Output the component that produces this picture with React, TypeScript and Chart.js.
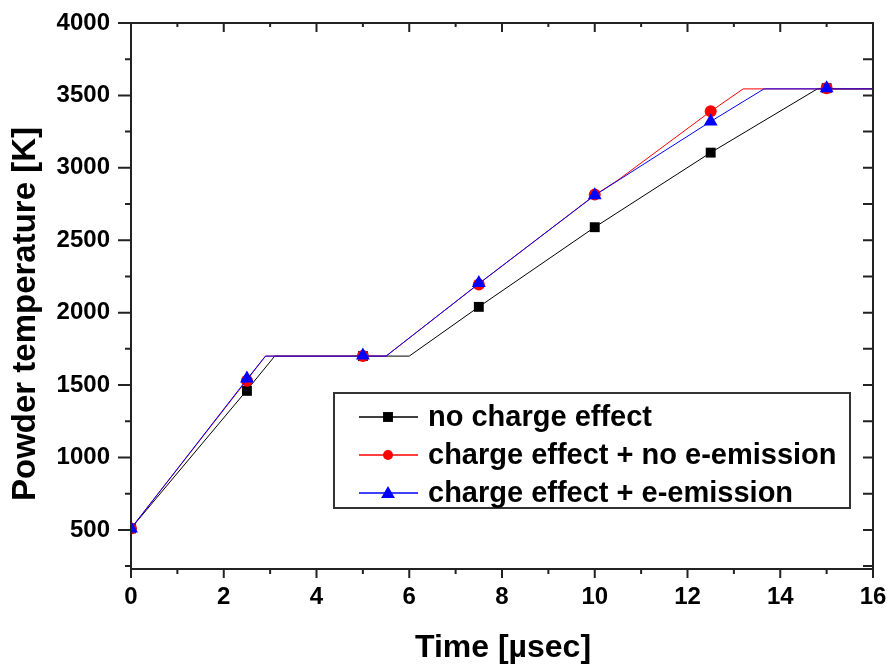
import React, { useEffect, useRef } from "react";
import { Chart, registerables } from "chart.js";

Chart.register(...registerables);

// ---- Axis ticks ----
const xTicks = [0, 2, 4, 6, 8, 10, 12, 14, 16];
const xMinorTicks = [1, 3, 5, 7, 9, 11, 13, 15];
const yTicks = [500, 1000, 1500, 2000, 2500, 3000, 3500, 4000];
const yMinorTicks = [250, 750, 1250, 1750, 2250, 2750, 3250, 3750];

// ---- Series names ----
const seriesNames = [
  "no charge effect",
  "charge effect + no e-emission",
  "charge effect + e-emission",
];

// ---- Marker samples (every 2.5 µs) ----
const markerTimes = [0, 2.5, 5, 7.5, 10, 12.5, 15];
const blackMarkers = [510, 1460, 1700, 2040, 2590, 3105, 3550];
const redMarkers = [510, 1530, 1700, 2195, 2815, 3390, 3550];
const blueMarkers = [510, 1545, 1705, 2205, 2810, 3320, 3550];

// ---- Continuous curves (breakpoints) ----
const blackLineTimes = [0, 2.5, 3.1, 6.0, 7.5, 10, 12.5, 14.8, 16];
const blackLineTemps = [510, 1465, 1700, 1700, 2040, 2590, 3105, 3545, 3545];
const redLineTimes = [0, 2.5, 2.9, 5.5, 7.5, 10, 10.5, 12.5, 13.2, 16];
const redLineTemps = [510, 1535, 1700, 1700, 2200, 2812, 2915, 3390, 3545, 3545];
const blueLineTimes = [0, 2.5, 2.9, 5.5, 7.5, 10, 12.5, 13.65, 16];
const blueLineTemps = [510, 1540, 1700, 1700, 2200, 2810, 3320, 3545, 3545];

const FONT = "'Liberation Sans', Arial, Helvetica, sans-serif";

const toXY = (xs: number[], ys: number[]) => xs.map((x, i) => ({ x, y: ys[i] }));

function drawMarker(ctx: CanvasRenderingContext2D, style: string, x: number, y: number, r: number, color: string) {
  ctx.save();
  ctx.fillStyle = color;
  ctx.beginPath();
  if (style === "rect") {
    const s = r * Math.SQRT1_2;
    ctx.rect(x - s, y - s, 2 * s, 2 * s);
  } else if (style === "circle") {
    ctx.arc(x, y, r, 0, Math.PI * 2);
  } else {
    const h = Math.sin(Math.PI / 3) * r;
    ctx.moveTo(x, y - r);
    ctx.lineTo(x + h, y + r / 2);
    ctx.lineTo(x - h, y + r / 2);
    ctx.closePath();
  }
  ctx.fill();
  ctx.restore();
}

const seriesStyles = [
  { color: "#000000", point: "rect", radius: 7, legendRadius: 7 },
  { color: "#ff0000", point: "circle", radius: 6, legendRadius: 5 },
  { color: "#0000ff", point: "triangle", radius: 8, legendRadius: 8 },
];

const framePlugin = {
  id: "frameTicks",
  afterDatasetsDraw(chart: any) {
    const { ctx, chartArea, scales } = chart;
    const { left, right, top, bottom } = chartArea;
    const xs = scales.x;
    const ys = scales.y;
    ctx.save();
    ctx.strokeStyle = "#222";
    ctx.lineWidth = 2;
    ctx.strokeRect(left, top, right - left, bottom - top);
    ctx.beginPath();
    xTicks.forEach((v) => {
      const px = xs.getPixelForValue(v);
      ctx.moveTo(px, bottom);
      ctx.lineTo(px, bottom + 9);
      ctx.moveTo(px, top);
      ctx.lineTo(px, top + 9);
    });
    xMinorTicks.forEach((v) => {
      const px = xs.getPixelForValue(v);
      ctx.moveTo(px, bottom);
      ctx.lineTo(px, bottom + 5);
      ctx.moveTo(px, top);
      ctx.lineTo(px, top + 4);
    });
    yTicks.forEach((v) => {
      const py = ys.getPixelForValue(v);
      ctx.moveTo(left, py);
      ctx.lineTo(left - 13, py);
      ctx.moveTo(right, py);
      ctx.lineTo(right - 10, py);
    });
    yMinorTicks.forEach((v) => {
      if (v < ys.min) return;
      const py = ys.getPixelForValue(v);
      ctx.moveTo(left, py);
      ctx.lineTo(left - 6, py);
      ctx.moveTo(right, py);
      ctx.lineTo(right - 10, py);
    });
    ctx.stroke();
    ctx.restore();
  },
  afterDraw(chart: any) {
    const { ctx } = chart;
    ctx.save();
    ctx.fillStyle = "#000";
    ctx.font = `bold 32px ${FONT}`;
    ctx.textAlign = "center";
    ctx.textBaseline = "alphabetic";
    ctx.fillText("Time [\u00b5sec]", 503, 657);
    ctx.save();
    ctx.translate(35, 314);
    ctx.rotate(-Math.PI / 2);
    ctx.font = `bold 33px ${FONT}`;
    ctx.fillText("Powder temperature [K]", 0, 0);
    ctx.restore();

    // Legend
    const bx = 334, by = 393, bw = 516, bh = 115;
    ctx.fillStyle = "#fff";
    ctx.fillRect(bx, by, bw, bh);
    ctx.strokeStyle = "#333";
    ctx.lineWidth = 2;
    ctx.strokeRect(bx, by, bw, bh);
    const rows = [417, 455, 493];
    seriesNames.forEach((name, i) => {
      const st = seriesStyles[i];
      const yy = rows[i];
      ctx.strokeStyle = st.color;
      ctx.lineWidth = 1.5;
      ctx.beginPath();
      ctx.moveTo(359, yy);
      ctx.lineTo(418, yy);
      ctx.stroke();
      drawMarker(ctx, st.point, 388, yy + (st.point === "triangle" ? 1 : 0), st.legendRadius, st.color);
      ctx.fillStyle = "#000";
      ctx.font = `bold 29px ${FONT}`;
      ctx.textAlign = "left";
      ctx.textBaseline = "middle";
      ctx.fillText(name, 428, yy + 1);
    });
    ctx.restore();
  },
};

export default function App() {
  const canvasRef = useRef<HTMLCanvasElement | null>(null);

  useEffect(() => {
    if (!canvasRef.current) return;
    const lineSets = [
      toXY(blackLineTimes, blackLineTemps),
      toXY(redLineTimes, redLineTemps),
      toXY(blueLineTimes, blueLineTemps),
    ];
    const markerSets = [
      toXY(markerTimes, blackMarkers),
      toXY(markerTimes, redMarkers),
      toXY(markerTimes, blueMarkers),
    ];
    const datasets: any[] = [];
    seriesNames.forEach((name, i) => {
      const st = seriesStyles[i];
      datasets.push({
        label: name,
        data: lineSets[i],
        borderColor: st.color,
        backgroundColor: st.color,
        borderWidth: 1,
        pointRadius: 0,
        tension: 0,
        fill: false,
        order: 6 - 2 * i,
      });
      datasets.push({
        label: name + " markers",
        data: markerSets[i],
        showLine: false,
        borderColor: st.color,
        backgroundColor: st.color,
        pointStyle: st.point,
        pointRadius: st.radius,
        pointBorderWidth: 0,
        order: 5 - 2 * i,
      });
    });

    const tickFont = { family: FONT, size: 24, weight: "bold" as const };
    const plain = (v: any) => String(v);
    const chart = new Chart(canvasRef.current, {
      type: "line",
      data: { datasets },
      plugins: [framePlugin],
      options: {
        animation: false,
        responsive: false,
        devicePixelRatio: 1,
        layout: { padding: { left: 0, top: 23, right: 18, bottom: 0 } },
        plugins: { legend: { display: false }, tooltip: { enabled: false } },
        scales: {
          x: {
            type: "linear",
            min: 0,
            max: 16,
            afterBuildTicks: (s: any) => {
              s.ticks = xTicks.map((v) => ({ value: v }));
            },
            afterFit: (s: any) => {
              s.height = 95;
              s.paddingLeft = 0;
              s.paddingRight = 0;
              s.paddingTop = 0;
              s.paddingBottom = 0;
            },
            ticks: { font: tickFont, color: "#000", padding: 14, maxRotation: 0, autoSkip: false, callback: plain },
            grid: { display: true, drawOnChartArea: false, drawTicks: false, color: "rgba(0,0,0,0)" },
            border: { display: false },
          },
          y: {
            type: "linear",
            min: 230,
            max: 4000,
            afterBuildTicks: (s: any) => {
              s.ticks = yTicks.map((v) => ({ value: v }));
            },
            afterFit: (s: any) => {
              s.width = 131;
              s.paddingLeft = 0;
              s.paddingRight = 0;
              s.paddingTop = 0;
              s.paddingBottom = 0;
            },
            ticks: { font: tickFont, color: "#000", padding: 21, autoSkip: false, callback: plain },
            grid: { display: true, drawOnChartArea: false, drawTicks: false, color: "rgba(0,0,0,0)" },
            border: { display: false },
          },
        },
      },
    });
    return () => chart.destroy();
  }, []);

  return (
    <div style={{ position: "fixed", left: 0, top: 0, width: 891, height: 664, background: "#fff" }}>
      <canvas ref={canvasRef} width={891} height={664} style={{ display: "block" }} />
    </div>
  );
}
